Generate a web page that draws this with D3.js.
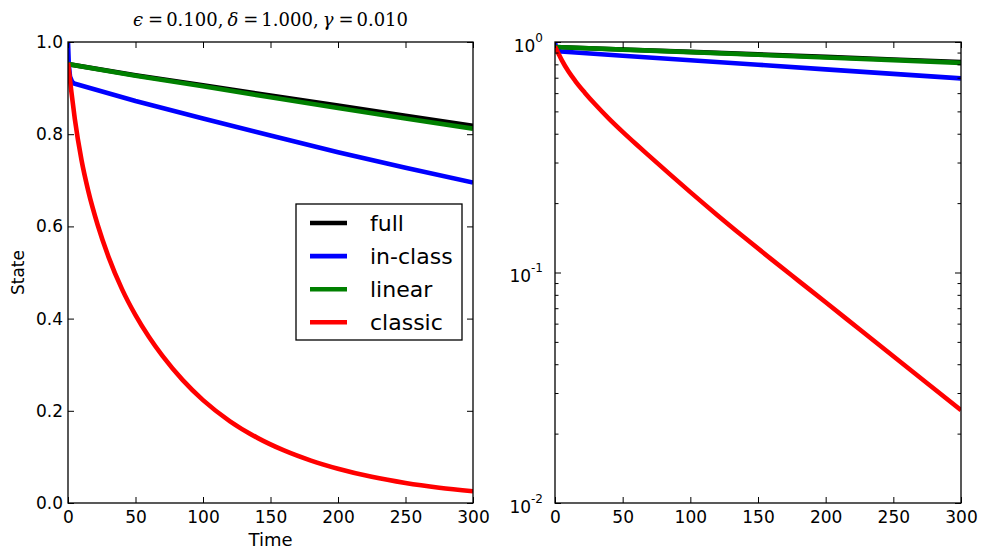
<!DOCTYPE html>
<html>
<head>
<meta charset="utf-8">
<script src="https://cdn.jsdelivr.net/npm/d3@7"></script>
<style>
  html, body { margin: 0; padding: 0; background: #fff; }
  svg { display: block; }
  .tick text { font-family: "DejaVu Sans", sans-serif; font-size: 17px; fill: #000; }
  .tick line { stroke: #000; stroke-width: 1; }
  .domain { display: none; }
</style>
</head>
<body>
<div id="chart"></div>
<script>
// values
const seriesNames = ["full", "in-class", "linear", "classic"];
const seriesColors = ["#000000", "#0000ff", "#008000", "#ff0000"];

const fullTime = [0, 50, 100, 150, 200, 250, 300];
const fullState = [0.952, 0.928, 0.906, 0.884, 0.862, 0.840, 0.818];

const inClassTime = [0, 0.6, 1.5, 3, 4.5, 50, 100, 150, 200, 250, 300];
const inClassState = [1.0, 0.95, 0.925, 0.914, 0.910, 0.872, 0.834, 0.797, 0.761, 0.727, 0.695];

const linearTime = [0, 50, 100, 150, 200, 250, 300];
const linearState = [0.952, 0.927, 0.904, 0.880, 0.857, 0.834, 0.812];

const classicTime = [0, 2.5, 5, 10, 15, 22, 30, 40, 50, 60, 70, 85, 100,
  120, 140, 160, 180, 200, 225, 250, 275, 300];
const classicState = [0.955, 0.892, 0.834, 0.744, 0.677, 0.603, 0.534, 0.464, 0.4075, 0.360,
  0.319, 0.2665, 0.2232, 0.1773, 0.1418, 0.1140, 0.0920, 0.0743, 0.0567, 0.0433, 0.0331, 0.0253];

const timeTicks = [0, 50, 100, 150, 200, 250, 300];
const stateTicks = [0, 0.2, 0.4, 0.6, 0.8, 1.0];
const logExponents = [0, -1, -2];

// gap: extra space before the piece (mathtext spacing round "=")
const titleParts = [
  { t: "\u03f5", italic: true, gap: 0 }, { t: "=", gap: 5 }, { t: "0.100,", gap: 3 },
  { t: "\u03b4", italic: true, gap: 4 }, { t: "=", gap: 5 }, { t: "1.000,", gap: 3 },
  { t: "\u03b3", italic: true, gap: 4 }, { t: "=", gap: 5 }, { t: "0.010", gap: 3 }
];

const series = seriesNames.map((name, i) => {
  const times = [fullTime, inClassTime, linearTime, classicTime][i];
  const states = [fullState, inClassState, linearState, classicState][i];
  return { name, color: seriesColors[i], smooth: name === "classic",
    values: times.map((t, j) => ({ t, v: states[j] })) };
});

const width = 983, height = 552;
const svg = d3.select("#chart").append("svg")
  .attr("width", width)
  .attr("height", height);
svg.append("rect").attr("width", width).attr("height", height).attr("fill", "#fff");

const panels = [
  { x0: 68, x1: 473, y0: 42, y1: 503, log: false },
  { x0: 555, x1: 961, y0: 42, y1: 503, log: true }
];

panels.forEach((p, idx) => {
  const x = d3.scaleLinear().domain([0, 300]).range([p.x0, p.x1]);
  const y = p.log
    ? d3.scaleLog().domain([0.01, 1]).range([p.y1, p.y0])
    : d3.scaleLinear().domain([0, 1]).range([p.y1, p.y0]);

  const clipId = "clip" + idx;
  svg.append("clipPath").attr("id", clipId)
    .append("rect")
    .attr("x", p.x0).attr("y", p.y0)
    .attr("width", p.x1 - p.x0).attr("height", p.y1 - p.y0);

  const smoothLine = d3.line().x(d => x(d.t)).y(d => y(d.v)).curve(d3.curveMonotoneX);
  const straightLine = d3.line().x(d => x(d.t)).y(d => y(d.v));

  svg.append("g")
    .attr("clip-path", `url(#${clipId})`)
    .selectAll("path")
    .data(series)
    .enter().append("path")
    .attr("d", d => (d.smooth ? smoothLine : straightLine)(d.values))
    .attr("fill", "none")
    .attr("stroke", d => d.color)
    .attr("stroke-width", 4.6)
    .attr("stroke-linejoin", "round");

  // bottom axis with labels, ticks pointing inward
  svg.append("g")
    .attr("transform", `translate(0,${p.y1})`)
    .call(d3.axisBottom(x).tickValues(timeTicks).tickSize(-6).tickPadding(8).tickFormat(d3.format("d")));
  svg.append("g")
    .attr("transform", `translate(0,${p.y0})`)
    .call(d3.axisTop(x).tickValues(timeTicks).tickSize(-6).tickFormat(""));

  if (!p.log) {
    svg.append("g")
      .attr("transform", `translate(${p.x0},0)`)
      .call(d3.axisLeft(y).tickValues(stateTicks).tickSize(-6).tickPadding(5).tickFormat(d3.format(".1f")));
    svg.append("g")
      .attr("transform", `translate(${p.x1},0)`)
      .call(d3.axisRight(y).tickValues(stateTicks).tickSize(-6).tickFormat(""));
  } else {
    const majors = logExponents.map(e => Math.pow(10, e));
    const minors = y.ticks().filter(v => !majors.some(m => Math.abs(m - v) < 1e-9));
    [[d3.axisLeft, p.x0], [d3.axisRight, p.x1]].forEach(([axisFn, xpos]) => {
      svg.append("g")
        .attr("transform", `translate(${xpos},0)`)
        .call(axisFn(y).tickValues(majors).tickSize(-6).tickFormat(""));
      svg.append("g")
        .attr("transform", `translate(${xpos},0)`)
        .call(axisFn(y).tickValues(minors).tickSize(-3.5).tickFormat(""));
    });
    const labels = svg.append("g")
      .selectAll("text")
      .data(logExponents)
      .enter().append("text")
      .attr("x", p.x0 - 12)
      .attr("y", e => y(Math.pow(10, e)) + 9.5)
      .attr("text-anchor", "end")
      .style("font-family", "DejaVu Sans, sans-serif")
      .style("font-size", "17px");
    labels.append("tspan").text("10");
    labels.append("tspan")
      .attr("dy", -10)
      .style("font-size", "12px")
      .text(e => String(e));
  }

  // frame
  svg.append("rect")
    .attr("x", p.x0).attr("y", p.y0)
    .attr("width", p.x1 - p.x0).attr("height", p.y1 - p.y0)
    .attr("fill", "none")
    .attr("stroke", "#000")
    .attr("stroke-width", 1.3);
});

// axis labels for the left panel
svg.append("text")
  .attr("x", (panels[0].x0 + panels[0].x1) / 2)
  .attr("y", 546)
  .attr("text-anchor", "middle")
  .style("font-family", "DejaVu Sans, sans-serif")
  .style("font-size", "18px")
  .text("Time");

svg.append("text")
  .attr("transform", `translate(24,${(panels[0].y0 + panels[0].y1) / 2}) rotate(-90)`)
  .attr("text-anchor", "middle")
  .style("font-family", "DejaVu Sans, sans-serif")
  .style("font-size", "17px")
  .text("State");

// title
const title = svg.append("text")
  .attr("x", (panels[0].x0 + panels[0].x1) / 2)
  .attr("y", 26)
  .attr("text-anchor", "middle")
  .style("font-family", "DejaVu Serif, serif")
  .style("font-size", "18px");
titleParts.forEach(part => {
  title.append("tspan")
    .attr("dx", part.gap)
    .style("font-style", part.italic ? "italic" : "normal")
    .text(part.t);
});

// legend
const legend = svg.append("g").attr("transform", "translate(296,204)");
legend.append("rect")
  .attr("width", 166).attr("height", 136)
  .attr("fill", "#fff")
  .attr("stroke", "#000")
  .attr("stroke-width", 1.3);
const rows = legend.selectAll(".row")
  .data(series)
  .enter().append("g")
  .attr("class", "row")
  .attr("transform", (d, i) => `translate(0,${19 + i * 33.1})`);
rows.append("line")
  .attr("x1", 14).attr("x2", 51)
  .attr("stroke", d => d.color)
  .attr("stroke-width", 4.6);
rows.append("text")
  .attr("x", 74)
  .attr("dy", "0.35em")
  .style("font-family", "DejaVu Sans, sans-serif")
  .style("font-size", "22px")
  .text(d => d.name);
</script>
</body>
</html>
